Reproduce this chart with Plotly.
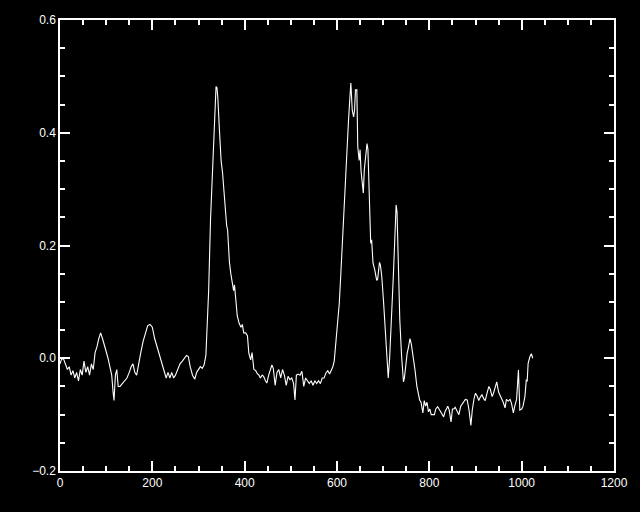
import plotly.graph_objects as go

x_vals = [
    0, 4, 8, 12, 16, 20, 24, 28, 32, 36, 40, 44, 48, 52, 56, 60, 64, 68, 72, 76,
    80, 84, 88, 92, 96, 100, 104, 108, 112, 115, 117, 120, 123, 126, 130, 135, 140, 145, 150, 154,
    158, 162, 166, 170, 175, 180, 185, 190, 195, 200, 205, 210, 215, 220, 225, 230, 234, 238, 242, 246,
    250, 255, 260, 265, 270, 274, 278, 282, 287, 292, 296, 300, 304, 308, 312, 316, 319, 322, 326, 331,
    336, 338, 340, 342, 345, 349, 352, 356, 361, 363, 367, 370, 374, 376, 378, 381, 384, 388, 392, 395,
    398, 402, 406, 409, 413, 416, 420, 424, 427, 431, 434, 438, 441, 445, 448, 452, 456, 459, 462, 466,
    470, 474, 478, 482, 486, 490, 494, 498, 502, 506, 509, 512, 516, 520, 524, 528, 532, 536, 540, 544,
    548, 552, 556, 560, 564, 568, 572, 576, 580, 584, 588, 591, 594, 598, 601, 605, 608, 612, 616, 621,
    625, 628, 630, 633, 636, 638, 640, 643, 645, 648, 650, 652, 655, 657, 659, 662, 665, 667, 670, 673,
    675, 676, 678, 682, 686, 688, 690, 692, 694, 697, 701, 704, 708, 711, 714, 718, 722, 726, 728, 730,
    733, 736, 740, 744, 746, 749, 752, 755, 758, 761, 765, 769, 773, 776, 779, 782, 786, 789, 792, 795,
    798, 801, 804, 807, 811, 814, 818, 821, 824, 827, 831, 834, 837, 840, 843, 847, 850, 853, 856, 860,
    864, 868, 872, 875, 878, 882, 886, 890, 893, 897, 900, 904, 907, 911, 914, 918, 921, 925, 929, 932,
    936, 939, 943, 946, 950, 953, 957, 960, 964, 967, 971, 975, 978, 982, 985, 989, 993, 996, 1000, 1003,
    1007, 1010, 1012, 1014, 1018, 1021, 1024,
]
y_vals = [
    -0.010, 0.000, -0.002, -0.012, -0.020, -0.015, -0.030, -0.022, -0.035, -0.025, -0.040, -0.020, -0.030, -0.005, -0.025, -0.015, -0.030, -0.010, -0.020, 0.010,
    0.020, 0.035, 0.045, 0.035, 0.025, 0.012, 0.000, -0.015, -0.030, -0.060, -0.075, -0.030, -0.020, -0.050, -0.050, -0.045, -0.040, -0.035, -0.025, -0.015,
    -0.010, -0.025, -0.030, -0.015, 0.010, 0.030, 0.045, 0.058, 0.060, 0.055, 0.035, 0.020, 0.005, -0.010, -0.020, -0.035, -0.025, -0.035, -0.025, -0.035,
    -0.030, -0.020, -0.010, -0.005, 0.000, 0.005, 0.003, -0.015, -0.030, -0.037, -0.025, -0.020, -0.015, -0.018, -0.012, 0.005, 0.060, 0.120, 0.245, 0.350,
    0.440, 0.482, 0.480, 0.460, 0.410, 0.350, 0.330, 0.280, 0.235, 0.228, 0.170, 0.150, 0.130, 0.120, 0.130, 0.095, 0.075, 0.062, 0.055, 0.060,
    0.045, 0.045, 0.040, 0.009, -0.003, 0.010, -0.020, -0.022, -0.027, -0.030, -0.035, -0.030, -0.032, -0.040, -0.044, -0.030, -0.020, -0.012, -0.018, -0.048,
    -0.025, -0.020, -0.035, -0.020, -0.030, -0.048, -0.032, -0.038, -0.035, -0.045, -0.074, -0.030, -0.028, -0.030, -0.023, -0.050, -0.035, -0.040, -0.045, -0.040,
    -0.048, -0.040, -0.045, -0.040, -0.045, -0.035, -0.035, -0.026, -0.022, -0.028, -0.020, -0.015, -0.005, 0.030, 0.070, 0.098, 0.145, 0.216, 0.287, 0.358,
    0.423, 0.464, 0.488, 0.440, 0.428, 0.440, 0.476, 0.476, 0.375, 0.351, 0.370, 0.333, 0.304, 0.293, 0.333, 0.357, 0.381, 0.370, 0.276, 0.204,
    0.210, 0.198, 0.169, 0.156, 0.138, 0.140, 0.162, 0.170, 0.165, 0.145, 0.098, 0.062, -0.003, -0.035, 0.000, 0.062, 0.145, 0.228, 0.272, 0.260,
    0.156, 0.068, 0.003, -0.042, -0.035, -0.008, 0.009, 0.020, 0.035, 0.025, 0.003, -0.021, -0.050, -0.065, -0.074, -0.078, -0.097, -0.075, -0.085, -0.078,
    -0.095, -0.090, -0.100, -0.100, -0.100, -0.090, -0.086, -0.090, -0.095, -0.100, -0.104, -0.095, -0.088, -0.085, -0.092, -0.113, -0.090, -0.090, -0.087, -0.095,
    -0.100, -0.085, -0.080, -0.075, -0.073, -0.074, -0.092, -0.119, -0.092, -0.071, -0.062, -0.068, -0.075, -0.068, -0.065, -0.072, -0.075, -0.062, -0.050, -0.055,
    -0.068, -0.062, -0.050, -0.042, -0.060, -0.065, -0.072, -0.078, -0.088, -0.073, -0.076, -0.073, -0.080, -0.097, -0.085, -0.073, -0.021, -0.092, -0.090, -0.085,
    -0.068, -0.039, -0.040, -0.009, 0.003, 0.008, 0.000,
]

x_ticks = [0, 200, 400, 600, 800, 1000, 1200]
y_ticks = [-0.2, 0.0, 0.2, 0.4, 0.6]

fig = go.Figure()
fig.add_trace(go.Scatter(x=x_vals, y=y_vals, mode="lines",
                         line=dict(color="white", width=1.1), showlegend=False))

axis_common = dict(
    showgrid=False, zeroline=False, showline=True, linecolor="white", linewidth=1.5,
    mirror="ticks", ticks="inside", ticklen=10, tickwidth=1.5, tickcolor="white",
    tickfont=dict(family="Liberation Sans", size=12, color="white"),
)

fig.update_xaxes(range=[0, 1200], tickvals=x_ticks, **axis_common,
                 minor=dict(dtick=50, ticks="inside", ticklen=5, tickwidth=1.5, tickcolor="white", showgrid=False))
fig.update_yaxes(range=[-0.2, 0.6], tickvals=y_ticks, tickformat=".1f", **axis_common,
                 minor=dict(dtick=0.05, ticks="inside", ticklen=5, tickwidth=1.5, tickcolor="white", showgrid=False))

fig.update_layout(
    width=640, height=512,
    paper_bgcolor="black", plot_bgcolor="black",
    margin=dict(l=60, r=18, t=20, b=41),
)

fig.write_html("out.html", config={"displayModeBar": False},
               post_script="document.body.style.margin='0';document.body.style.background='black';")
